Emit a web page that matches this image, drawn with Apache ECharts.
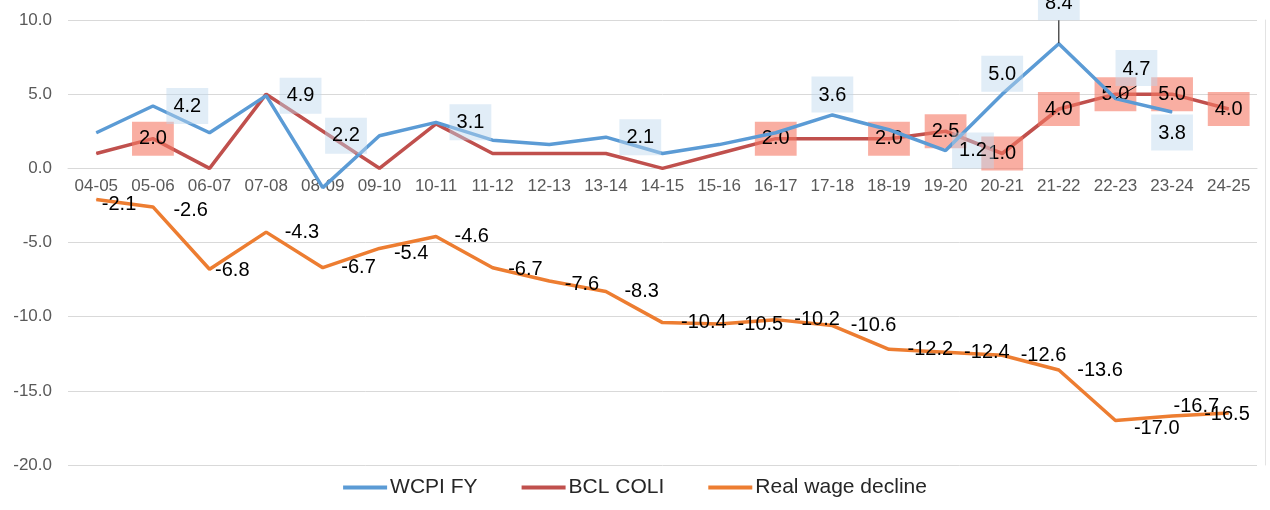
<!DOCTYPE html>
<html>
<head>
<meta charset="utf-8">
<script src="https://cdn.jsdelivr.net/npm/echarts@6/dist/echarts.min.js"></script>
<style>
  html, body { margin: 0; padding: 0; background: #fff; }
  #chart { width: 1270px; height: 510px; }
</style>
</head>
<body>
<div id="chart"></div>
<script>
// 年度
var categories = ['04-05', '05-06', '06-07', '07-08', '08-09', '09-10', '10-11', '11-12', '12-13', '13-14',
    '14-15', '15-16', '16-17', '17-18', '18-19', '19-20', '20-21', '21-22', '22-23', '23-24', '24-25'];
var wcpiFY = [2.4, 4.2, 2.4, 4.9, -1.3, 2.2, 3.1, 1.9, 1.6, 2.1, 1.0, 1.6, 2.4, 3.6, 2.6, 1.2, 5.0, 8.4, 4.7, 3.8, null];
var bclColi = [1.0, 2.0, 0.0, 5.0, 2.5, 0.0, 3.0, 1.0, 1.0, 1.0, 0.0, 1.0, 2.0, 2.0, 2.0, 2.5, 1.0, 4.0, 5.0, 5.0, 4.0];
var realWage = [-2.1, -2.6, -6.8, -4.3, -6.7, -5.4, -4.6, -6.7, -7.6, -8.3, -10.4, -10.5, -10.2, -10.6,
    -12.2, -12.4, -12.6, -13.6, -17.0, -16.7, -16.5];
// 哪些点显示数据标签
var wcpiLabelled = [1, 3, 5, 6, 9, 13, 15, 16, 17, 18, 19];
var bclLabelled = [1, 12, 14, 15, 16, 17, 18, 19, 20];

var font = 'Liberation Sans, Arial, sans-serif';

// 个别标签的位置调整 (只是样式)
var wcpiLabelFix = {
    5: {position: 'left', distance: 12, offset: [0, -8]},
    13: {position: 'top', distance: 2, offset: [14, 0]},
    15: {distance: 6},
    16: {position: 'top', distance: 2, offset: [22, 0]},
    17: {position: 'top', distance: 2},
    18: {position: 'top', distance: 2},
    19: {position: 'bottom', distance: 2, offset: [19, 0]}
};
var realLabelFix = {
    0: {offset: [-13, 5]},
    1: {offset: [2, 4]},
    2: {offset: [-13, 1]},
    5: {offset: [-4, 5]},
    7: {offset: [-3, 2]},
    8: {offset: [-3, 3]},
    18: {offset: [0, 8]},
    19: {offset: [-17, -10]},
    20: {offset: [-43, 1]}
};
// 需要引线的标签
var wcpiMoved = {17: {dy: -21}, 18: {dx: 21, dy: -10}};

var fmt = function (p) { return p.value == null ? '' : Number(p.value).toFixed(1); };

function buildData(values, labelled, fix, leader) {
    return values.map(function (v, i) {
        var item = {value: v};
        if (labelled && labelled.indexOf(i) < 0) {
            item.label = {show: false};
        } else if (fix && fix[i]) {
            item.label = fix[i];
        }
        if (leader && leader[i]) {
            item.labelLine = {show: true, lineStyle: {color: '#000', width: 1}};
        }
        return item;
    });
}

var labelText = {color: '#000', fontSize: 20, fontFamily: font};

function lineSeries(name, color, z, values, label) {
    return {
        name: name,
        type: 'line',
        symbol: 'circle',
        symbolSize: 1,
        showSymbol: true,
        z: z,
        lineStyle: {color: color, width: 3.5},
        itemStyle: {color: color},
        labelLine: {show: false},
        label: label,
        data: values
    };
}

var wcpi = lineSeries('WCPI FY', '#5b9bd5', 3, buildData(wcpiFY, wcpiLabelled, wcpiLabelFix, wcpiMoved),
    Object.assign({
        show: true, position: 'right', distance: 13, formatter: fmt,
        backgroundColor: 'rgba(189,215,238,0.45)', padding: [9, 7, 7, 7]
    }, labelText));
wcpi.labelLayout = function (params) {
    return wcpiMoved[params.dataIndex] || {};
};

var option = {
    animation: false,
    textStyle: {fontFamily: font},
    grid: {left: 68, right: 13, top: 20, bottom: 45},
    legend: {
        bottom: 7,
        left: 'center',
        icon: 'rect',
        itemWidth: 44,
        itemHeight: 4,
        itemGap: 44,
        textStyle: {fontSize: 21, color: '#262626', fontFamily: font, padding: [0, 0, 0, -2]},
        data: ['WCPI FY', 'BCL COLI', 'Real wage decline']
    },
    xAxis: {
        type: 'category',
        data: categories,
        boundaryGap: true,
        position: 'bottom',
        offset: -297,
        axisLine: {onZero: false, lineStyle: {color: '#d9d9d9', width: 1}},
        axisTick: {show: false},
        axisLabel: {color: '#595959', fontSize: 17, margin: 10, interval: 0, fontFamily: font}
    },
    yAxis: [{
        type: 'value',
        min: -20,
        max: 10,
        interval: 5,
        axisLine: {show: false},
        axisTick: {show: false},
        splitLine: {lineStyle: {color: '#d9d9d9', width: 1}},
        axisLabel: {
            color: '#595959', fontSize: 17, margin: 16, fontFamily: font,
            formatter: function (v) { return v.toFixed(1); }
        }
    }, {
        // 右侧边框线
        type: 'value',
        position: 'right',
        offset: 8,
        min: -20,
        max: 10,
        axisLine: {show: true, lineStyle: {color: '#e3e3e3'}},
        axisTick: {show: false},
        axisLabel: {show: false},
        splitLine: {show: false}
    }],
    series: [
        wcpi,
        lineSeries('BCL COLI', '#c0504d', 2, buildData(bclColi, bclLabelled),
            Object.assign({
                show: true, position: 'inside', formatter: fmt,
                backgroundColor: 'rgba(245,120,100,0.6)', padding: [8, 7, 6, 7]
            }, labelText)),
        lineSeries('Real wage decline', '#ed7d31', 1, buildData(realWage, null, realLabelFix),
            Object.assign({
                show: true, position: 'right', distance: 18, formatter: fmt
            }, labelText))
    ]
};

var chart = echarts.init(document.getElementById('chart'));
chart.setOption(option);
</script>
</body>
</html>
